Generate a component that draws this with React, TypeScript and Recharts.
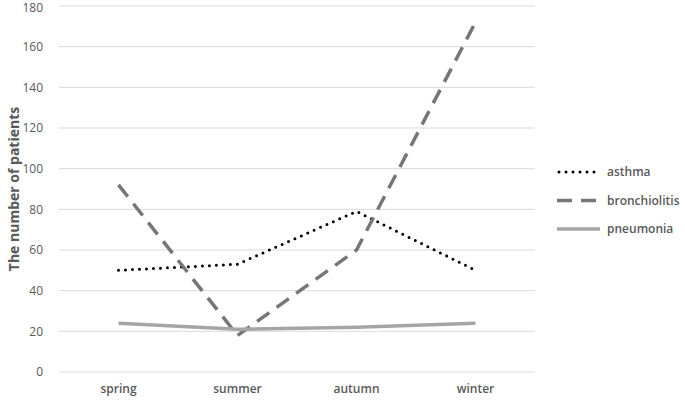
import { LineChart, Line, XAxis, YAxis, CartesianGrid } from 'recharts';

const seasons = ['spring', 'summer', 'autumn', 'winter'];
const asthma = [50, 53, 79, 50];
const bronchiolitis = [92, 18, 60, 172];
const pneumonia = [24, 21, 22, 24];
const yTicks = [0, 20, 40, 60, 80, 100, 120, 140, 160, 180];

const data = seasons.map((season, i) => ({
  season,
  asthma: asthma[i],
  bronchiolitis: bronchiolitis[i],
  pneumonia: pneumonia[i],
}));

const seriesStyle = [
  { key: 'asthma', color: '#000000', width: 3, dash: '0 7', cap: 'round' as const },
  { key: 'bronchiolitis', color: '#767676', width: 3.5, dash: '15 9', cap: 'butt' as const },
  { key: 'pneumonia', color: '#a5a5a5', width: 3.5, dash: undefined, cap: 'butt' as const },
];

const font = '"Open Sans", "Liberation Sans", sans-serif';

// Excel-style legend: line sample + label
const LegendBox = () => (
  <svg width={130} height={90} style={{ position: 'absolute', left: 555, top: 158 }}>
    {seriesStyle.map((s, i) => (
      <g key={s.key} transform={`translate(0, ${i * 28.5 + 14})`}>
        <line
          x1={s.cap === 'round' ? 4 : 2}
          x2={s.key === 'bronchiolitis' ? 41 : 45}
          y1={0}
          y2={0}
          stroke={s.color}
          strokeWidth={s.width}
          strokeDasharray={s.dash}
          strokeLinecap={s.cap}
        />
        <text x={52} y={4} fontSize={12} fontWeight={600} fill="#595959" fontFamily={font}>
          {s.key}
        </text>
      </g>
    ))}
  </svg>
);

export default function App() {
  return (
    <div style={{ position: 'absolute', left: 0, top: 0, width: 685, height: 400, background: '#fff' }}>
      <LineChart width={685} height={400} data={data} margin={{ top: 6, right: 150, bottom: 0, left: 0 }}>
        <CartesianGrid vertical={false} stroke="#d9d9d9" />
        <XAxis
          dataKey="season"
          scale="band"
          height={28}
          axisLine={false}
          tickLine={false}
          tick={{ fill: '#595959', fontSize: 12, fontWeight: 600, fontFamily: font }}
          tickMargin={6}
        />
        <YAxis
          domain={[0, 180]}
          ticks={yTicks}
          width={59}
          axisLine={false}
          tickLine={false}
          tickSize={0}
          tickMargin={16}
          tick={{ fill: '#595959', fontSize: 12, fontFamily: font }}
          label={{
            value: 'The number of patients',
            angle: -90,
            position: 'insideLeft',
            offset: 14,
            style: { textAnchor: 'middle', fill: '#595959', fontSize: 14, fontWeight: 'bold', fontFamily: font },
          }}
        />
        {seriesStyle.map((s) => (
          <Line
            key={s.key}
            type="linear"
            dataKey={s.key}
            stroke={s.color}
            strokeWidth={s.width}
            strokeDasharray={s.dash}
            strokeLinecap={s.cap}
            dot={false}
            activeDot={false}
            isAnimationActive={false}
          />
        ))}
      </LineChart>
      <LegendBox />
    </div>
  );
}
